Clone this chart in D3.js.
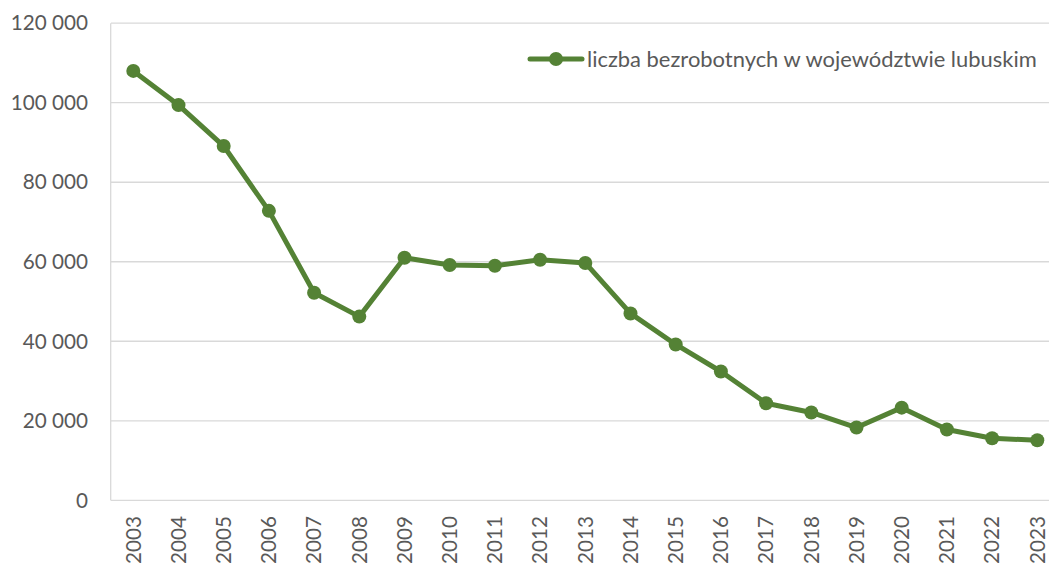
<!DOCTYPE html>
<html><head><meta charset="utf-8">
<script src="https://cdn.jsdelivr.net/npm/d3@7"></script>
<style>body{margin:0;background:#fff}svg{display:block}text{font-family:Lato,"Open Sans",sans-serif;fill:#595959}</style>
</head><body>
<svg id="c" width="1049" height="565"></svg>
<script>
const years = ["2003","2004","2005","2006","2007","2008","2009","2010","2011","2012","2013","2014","2015","2016","2017","2018","2019","2020","2021","2022","2023"];
const unemployed = [108000,99400,89100,72800,52200,46200,61000,59200,59000,60500,59700,47000,39200,32400,24400,22100,18300,23300,17800,15600,15100];
const yTicks = [0,20000,40000,60000,80000,100000,120000];
const seriesName = "liczba bezrobotnych w województwie lubuskim";

const svg = d3.select("#c");
const color = "#548235";
const x = d3.scaleBand().domain(years).range([110.7, 1059.9]);
const y = d3.scaleLinear().domain([0,120000]).range([500.3, 23.2]);
const fmt = v => d3.format(",")(v).replace(/,/g, " ");

// gridlines
svg.append("g").selectAll("line").data(yTicks.filter(d=>d>0)).join("line")
  .attr("x1", 111).attr("x2", 1049).attr("y1", d=>y(d)).attr("y2", d=>y(d))
  .attr("stroke", "#d9d9d9").attr("stroke-width", 1.3);
svg.append("line").attr("x1",110.7).attr("x2",1049).attr("y1",y(0)).attr("y2",y(0)).attr("stroke","#d9d9d9").attr("stroke-width",1.3);
svg.append("line").attr("x1",110.7).attr("x2",110.7).attr("y1",y(120000)).attr("y2",y(0)).attr("stroke","#d9d9d9").attr("stroke-width",1.3);

// y labels
svg.append("g").selectAll("text").data(yTicks).join("text")
  .attr("x", 88).attr("y", d=>y(d)).attr("dy","0.35em").attr("text-anchor","end")
  .attr("font-size", 20.7).text(fmt);

// x labels
svg.append("g").selectAll("text").data(years).join("text")
  .attr("transform", d=>`translate(${x(d)+x.bandwidth()/2},516) rotate(-90)`)
  .attr("text-anchor","end").attr("dy","0.35em").attr("font-size",20.7).text(d=>d);

// line
const cx = (d,i)=>x(years[i])+x.bandwidth()/2;
svg.append("path").datum(unemployed)
  .attr("d", d3.line().x(cx).y(d=>y(d)))
  .attr("fill","none").attr("stroke",color).attr("stroke-width",5).attr("stroke-linejoin","round").attr("stroke-linecap","round");
svg.append("g").selectAll("circle").data(unemployed).join("circle")
  .attr("cx", cx).attr("cy", d=>y(d)).attr("r", 7).attr("fill", color);

// legend
const lg = svg.append("g");
lg.append("line").attr("x1",530).attr("x2",582).attr("y1",59).attr("y2",59).attr("stroke",color).attr("stroke-width",5).attr("stroke-linecap","round");
lg.append("circle").attr("cx",556).attr("cy",59).attr("r",7).attr("fill",color);
const lt = lg.append("text").attr("x",587).attr("y",59).attr("dy","0.35em").attr("font-size",20).text(seriesName);
const w = lt.node().getComputedTextLength();
lt.attr("font-size", 20*450/w);
</script>
</body></html>
